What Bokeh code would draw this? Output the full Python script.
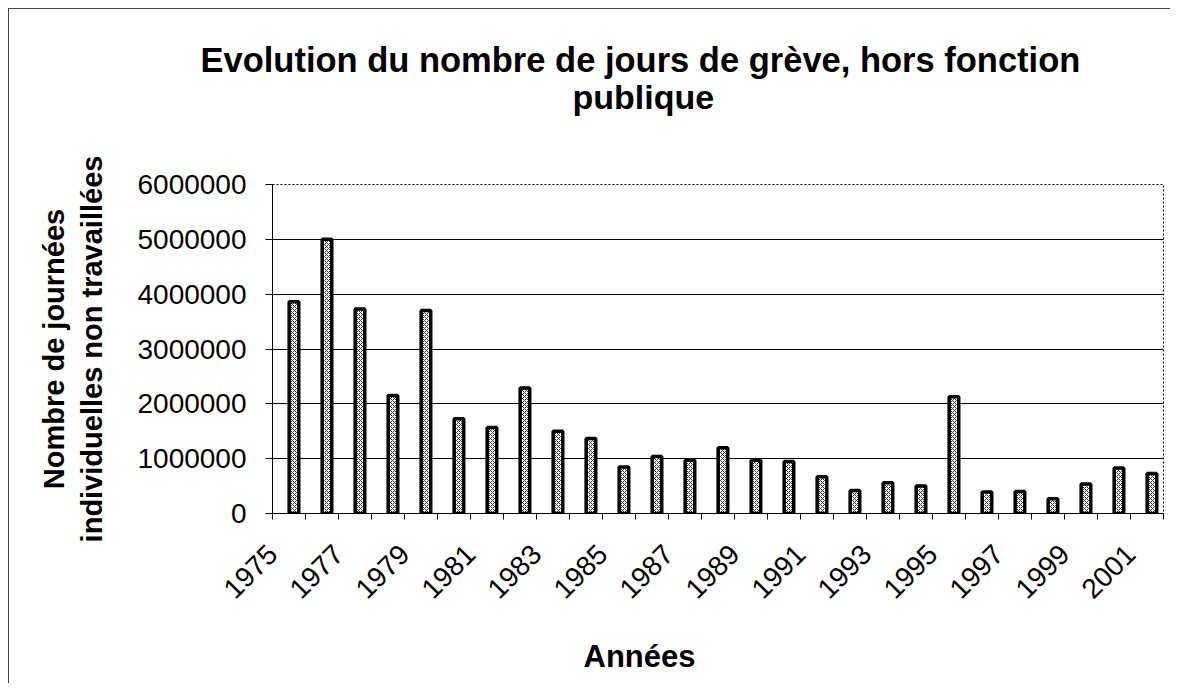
from math import pi
from bokeh.plotting import figure
from bokeh.models import ColumnDataSource, Range1d, FixedTicker, Title, NumeralTickFormatter
from bokeh.transform import dodge
from bokeh.embed import file_html
from bokeh.resources import INLINE

# ---- data ----
years = [1975, 1976, 1977, 1978, 1979, 1980, 1981, 1982, 1983, 1984,
         1985, 1986, 1987, 1988, 1989, 1990, 1991, 1992, 1993, 1994,
         1995, 1996, 1997, 1998, 1999, 2000, 2001]
jours = [3860000, 5000000, 3730000, 2150000, 3700000, 1730000, 1570000,
         2290000, 1500000, 1370000, 850000, 1040000, 970000, 1200000,
         970000, 950000, 670000, 420000, 560000, 500000, 2130000,
         390000, 400000, 270000, 540000, 830000, 730000]
year_labels = ["1975", "1977", "1979", "1981", "1983", "1985", "1987",
               "1989", "1991", "1993", "1995", "1997", "1999", "2001"]
y_ticks = [0, 1000000, 2000000, 3000000, 4000000, 5000000, 6000000]

title_lines = ["Evolution du nombre de jours de grève, hors fonction", "publique"]
y_title = "Nombre de journées\nindividuelles non travaillées"
x_title = "Années"

FONT = "Liberation Sans"

src = ColumnDataSource(dict(year=years, jours=jours))

p = figure(width=1170, height=683, output_backend="svg", toolbar_location=None,
           x_range=Range1d(years[0] - 0.5, years[-1] + 0.5),
           y_range=Range1d(y_ticks[0], y_ticks[-1]),
           min_border_left=272, min_border_right=7,
           min_border_top=184, min_border_bottom=170)

p.vbar(x=dodge("year", 0.15), top="jours", width=0.29, source=src,
       fill_color="white", line_color="black", line_width=3.5,
       hatch_pattern="diagonal_cross", hatch_color="#333333",
       hatch_scale=4, hatch_weight=1)

# x axis: tick marks at category boundaries, labels on every other year
bounds = [y - 0.5 for y in years] + [years[-1] + 0.5]
overrides = {}
for y in years:
    overrides[y - 0.5] = str(y) if str(y) in year_labels else ""
overrides[years[-1] + 0.5] = ""
p.xaxis.ticker = FixedTicker(ticks=bounds)
p.xaxis.major_label_overrides = overrides
p.xaxis.major_label_orientation = pi / 4
p.xaxis.major_tick_out = 6
p.xaxis.major_tick_in = 0
p.xaxis.minor_tick_line_color = None
p.xaxis.major_label_standoff = 30
p.xaxis.major_label_text_font = FONT
p.xaxis.major_label_text_font_size = "28px"
p.xaxis.major_label_text_color = "black"
p.xaxis.axis_line_color = "black"
p.xaxis.major_tick_line_color = "black"

# y axis
p.yaxis.ticker = FixedTicker(ticks=y_ticks)
p.yaxis.formatter = NumeralTickFormatter(format="0")
p.yaxis.major_tick_out = 7
p.yaxis.major_tick_in = 0
p.yaxis.minor_tick_line_color = None
p.yaxis.major_label_standoff = 19
p.yaxis.major_label_text_font = FONT
p.yaxis.major_label_text_font_size = "28px"
p.yaxis.major_label_text_color = "black"
p.yaxis.axis_line_color = "black"
p.yaxis.major_tick_line_color = "black"
p.yaxis.axis_label = y_title
p.yaxis.axis_label_text_font = FONT
p.yaxis.axis_label_text_font_size = "29px"
p.yaxis.axis_label_text_font_style = "bold"
p.yaxis.axis_label_text_color = "black"
p.yaxis.axis_label_standoff = 26

p.xgrid.visible = False
p.ygrid.ticker = FixedTicker(ticks=y_ticks[1:-1])
p.ygrid.grid_line_color = "black"
p.ygrid.grid_line_width = 1

p.outline_line_color = "black"
p.outline_line_dash = "2 2"
p.outline_line_width = 1

# titles: stacked outward from the frame (first added = closest)
p.add_layout(Title(text=" ", text_font=FONT, text_font_size="40px", standoff=23), "above")
p.add_layout(Title(text=title_lines[1], align="left", offset=300, vertical_align="middle",
                   text_font=FONT, text_font_size="34px", text_font_style="bold",
                   text_color="black", standoff=-3), "above")
p.add_layout(Title(text=title_lines[0], align="left", offset=-72, vertical_align="middle",
                   text_font=FONT, text_font_size="34.5px", text_font_style="bold",
                   text_color="black", standoff=-3), "above")
p.add_layout(Title(text=" ", text_font=FONT, text_font_size="20px", standoff=4), "below")
p.add_layout(Title(text=x_title, align="left", offset=311, vertical_align="middle",
                   text_font=FONT, text_font_size="31px", text_font_style="bold",
                   text_color="black", standoff=0), "below")

p.border_fill_color = None
p.styles = {
    "background": "linear-gradient(#444, #444) 8px 8px / 1px 100% no-repeat, "
                  "linear-gradient(#444, #444) 8px 8px / 100% 1px no-repeat, white"
}

open("out.html", "w").write(file_html(p, INLINE))
